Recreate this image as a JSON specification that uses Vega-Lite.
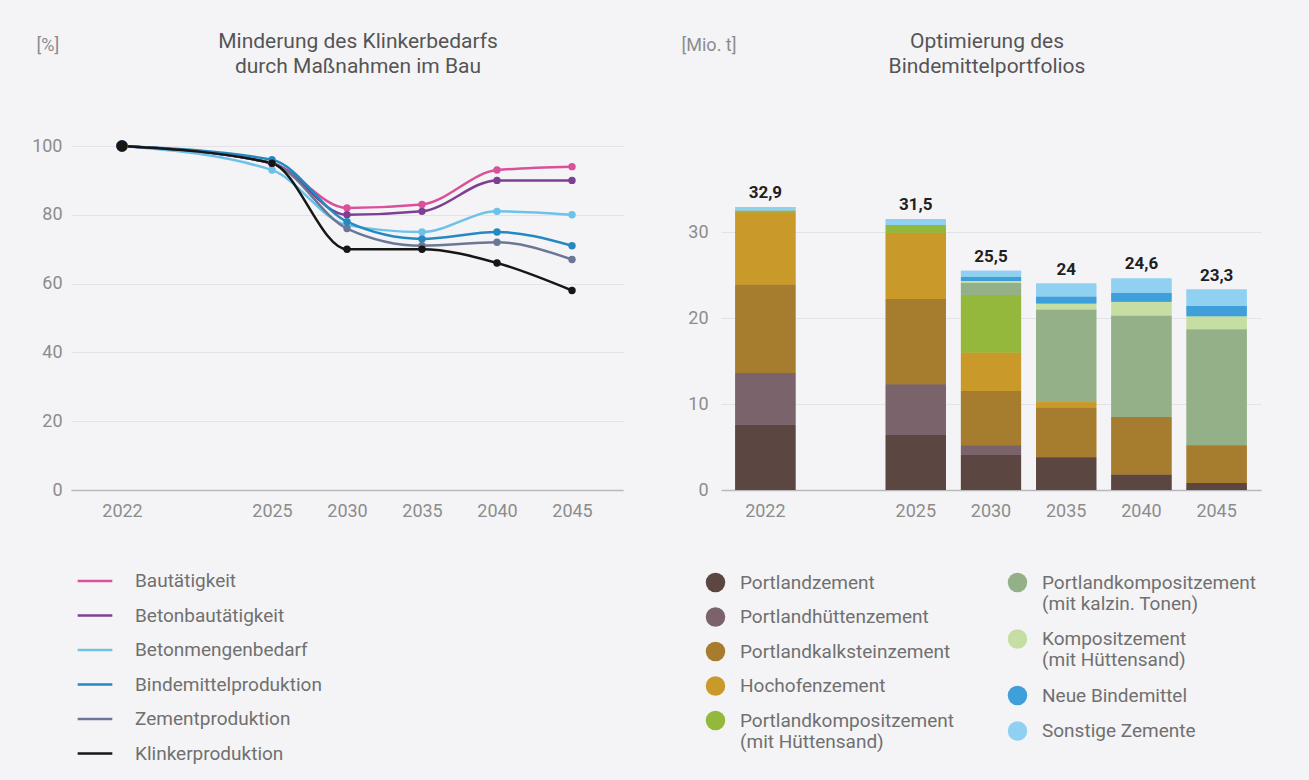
{
  "$schema": "https://vega.github.io/schema/vega-lite/v6.json",
  "background": "#f4f4f6",
  "padding": {"left": 31, "top": 31, "right": 60, "bottom": 30},
  "config": {
    "font": "Roboto",
    "locale": {"number": {"decimal": ",", "thousands": ".", "grouping": [3], "currency": ["", " €"]}},
    "view": {"stroke": null},
    "axis": {"labelFont": "Roboto", "labelFontSize": 18, "labelColor": "#8c8c8c", "ticks": false, "titleFont": "Roboto", "titleFontSize": 18, "titleColor": "#8c8c8c", "titleFontWeight": "normal"},
    "axisX": {"grid": false, "domainColor": "#b9b9bc", "domainWidth": 1.5, "labelPadding": 12, "labelAngle": 0},
    "axisY": {"grid": true, "gridColor": "#e3e3e7", "domain": false},
    "title": {"font": "Roboto", "fontSize": 21, "fontWeight": "normal", "color": "#555555", "lineHeight": 25, "anchor": "middle"},
    "legend": {"labelFont": "Roboto", "labelFontSize": 19, "labelColor": "#707070", "labelLimit": 400, "padding": 0, "title": null}
  },
  "datasets": {
    "lines": [
      {"series": "Bautätigkeit", "year": "2022", "value": 100},
      {"series": "Bautätigkeit", "year": "2025", "value": 95},
      {"series": "Bautätigkeit", "year": "2030", "value": 82},
      {"series": "Bautätigkeit", "year": "2035", "value": 83},
      {"series": "Bautätigkeit", "year": "2040", "value": 93},
      {"series": "Bautätigkeit", "year": "2045", "value": 94},
      {"series": "Betonbautätigkeit", "year": "2022", "value": 100},
      {"series": "Betonbautätigkeit", "year": "2025", "value": 95},
      {"series": "Betonbautätigkeit", "year": "2030", "value": 80},
      {"series": "Betonbautätigkeit", "year": "2035", "value": 81},
      {"series": "Betonbautätigkeit", "year": "2040", "value": 90},
      {"series": "Betonbautätigkeit", "year": "2045", "value": 90},
      {"series": "Betonmengenbedarf", "year": "2022", "value": 100},
      {"series": "Betonmengenbedarf", "year": "2025", "value": 93},
      {"series": "Betonmengenbedarf", "year": "2030", "value": 77},
      {"series": "Betonmengenbedarf", "year": "2035", "value": 75},
      {"series": "Betonmengenbedarf", "year": "2040", "value": 81},
      {"series": "Betonmengenbedarf", "year": "2045", "value": 80},
      {"series": "Bindemittelproduktion", "year": "2022", "value": 100},
      {"series": "Bindemittelproduktion", "year": "2025", "value": 96},
      {"series": "Bindemittelproduktion", "year": "2030", "value": 78},
      {"series": "Bindemittelproduktion", "year": "2035", "value": 73},
      {"series": "Bindemittelproduktion", "year": "2040", "value": 75},
      {"series": "Bindemittelproduktion", "year": "2045", "value": 71},
      {"series": "Zementproduktion", "year": "2022", "value": 100},
      {"series": "Zementproduktion", "year": "2025", "value": 95},
      {"series": "Zementproduktion", "year": "2030", "value": 76},
      {"series": "Zementproduktion", "year": "2035", "value": 71},
      {"series": "Zementproduktion", "year": "2040", "value": 72},
      {"series": "Zementproduktion", "year": "2045", "value": 67},
      {"series": "Klinkerproduktion", "year": "2022", "value": 100},
      {"series": "Klinkerproduktion", "year": "2025", "value": 95},
      {"series": "Klinkerproduktion", "year": "2030", "value": 70},
      {"series": "Klinkerproduktion", "year": "2035", "value": 70},
      {"series": "Klinkerproduktion", "year": "2040", "value": 66},
      {"series": "Klinkerproduktion", "year": "2045", "value": 58}
    ],
    "bars": [
      {"year": "2022", "type": "Portlandzement", "value": 7.6},
      {"year": "2022", "type": "Portlandhüttenzement", "value": 6.0},
      {"year": "2022", "type": "Portlandkalksteinzement", "value": 10.3},
      {"year": "2022", "type": "Hochofenzement", "value": 8.4},
      {"year": "2022", "type": "Portlandkompositzement (mit Hüttensand)", "value": 0.2},
      {"year": "2022", "type": "Sonstige Zemente", "value": 0.4},
      {"year": "2025", "type": "Portlandzement", "value": 6.4},
      {"year": "2025", "type": "Portlandhüttenzement", "value": 5.9},
      {"year": "2025", "type": "Portlandkalksteinzement", "value": 9.9},
      {"year": "2025", "type": "Hochofenzement", "value": 7.7},
      {"year": "2025", "type": "Portlandkompositzement (mit Hüttensand)", "value": 0.9},
      {"year": "2025", "type": "Sonstige Zemente", "value": 0.7},
      {"year": "2030", "type": "Portlandzement", "value": 4.1},
      {"year": "2030", "type": "Portlandhüttenzement", "value": 1.1},
      {"year": "2030", "type": "Portlandkalksteinzement", "value": 6.3},
      {"year": "2030", "type": "Hochofenzement", "value": 4.5},
      {"year": "2030", "type": "Portlandkompositzement (mit Hüttensand)", "value": 6.7},
      {"year": "2030", "type": "Portlandkompositzement (mit kalzin. Tonen)", "value": 1.4},
      {"year": "2030", "type": "Kompositzement (mit Hüttensand)", "value": 0.2},
      {"year": "2030", "type": "Neue Bindemittel", "value": 0.5},
      {"year": "2030", "type": "Sonstige Zemente", "value": 0.7},
      {"year": "2035", "type": "Portlandzement", "value": 3.8},
      {"year": "2035", "type": "Portlandkalksteinzement", "value": 5.8},
      {"year": "2035", "type": "Hochofenzement", "value": 0.7},
      {"year": "2035", "type": "Portlandkompositzement (mit kalzin. Tonen)", "value": 10.7},
      {"year": "2035", "type": "Kompositzement (mit Hüttensand)", "value": 0.7},
      {"year": "2035", "type": "Neue Bindemittel", "value": 0.8},
      {"year": "2035", "type": "Sonstige Zemente", "value": 1.5},
      {"year": "2040", "type": "Portlandzement", "value": 1.8},
      {"year": "2040", "type": "Portlandkalksteinzement", "value": 6.7},
      {"year": "2040", "type": "Portlandkompositzement (mit kalzin. Tonen)", "value": 11.8},
      {"year": "2040", "type": "Kompositzement (mit Hüttensand)", "value": 1.6},
      {"year": "2040", "type": "Neue Bindemittel", "value": 1.0},
      {"year": "2040", "type": "Sonstige Zemente", "value": 1.7},
      {"year": "2045", "type": "Portlandzement", "value": 0.8},
      {"year": "2045", "type": "Portlandkalksteinzement", "value": 4.4},
      {"year": "2045", "type": "Portlandkompositzement (mit kalzin. Tonen)", "value": 13.5},
      {"year": "2045", "type": "Kompositzement (mit Hüttensand)", "value": 1.5},
      {"year": "2045", "type": "Neue Bindemittel", "value": 1.2},
      {"year": "2045", "type": "Sonstige Zemente", "value": 1.9}
    ],
    "totals": [
      {"year": "2022", "total": 32.9},
      {"year": "2025", "total": 31.5},
      {"year": "2030", "total": 25.5},
      {"year": "2035", "total": 24},
      {"year": "2040", "total": 24.6},
      {"year": "2045", "total": 23.3}
    ]
  },
  "spacing": 58,
  "resolve": {"scale": {"color": "independent"}, "legend": {"color": "independent"}},
  "hconcat": [
    {
      "width": 552,
      "height": 344,
      "title": {"text": ["Minderung des Klinkerbedarfs", "durch Maßnahmen im Bau"], "offset": -41, "dx": 11},
      "data": {"name": "lines"},
      "encoding": {
        "x": {"field": "year", "type": "ordinal", "title": null,
          "scale": {"type": "point", "domain": ["2022", " ", "2025", "2030", "2035", "2040", "2045"], "padding": 0.68},
          "axis": {"values": ["2022", "2025", "2030", "2035", "2040", "2045"]}},
        "y": {"field": "value", "type": "quantitative",
          "scale": {"domain": [0, 100]},
          "axis": {"values": [0, 20, 40, 60, 80, 100], "title": "[%]", "titleAngle": 0, "titleAlign": "left", "titleBaseline": "middle", "titleX": -35, "titleY": -101, "labelPadding": 9}},
        "color": {"field": "series", "type": "nominal",
          "scale": {"domain": ["Bautätigkeit", "Betonbautätigkeit", "Betonmengenbedarf", "Bindemittelproduktion", "Zementproduktion", "Klinkerproduktion"],
                    "range": ["#d9509b", "#7d3f91", "#6ec1e8", "#2589c1", "#6b7796", "#161616"]},
          "legend": {"orient": "none", "legendX": 5, "legendY": 416, "symbolType": "stroke", "symbolSize": 1200, "symbolStrokeWidth": 2.5, "labelOffset": 21, "rowPadding": 5.5}}
      },
      "layer": [
        {"mark": {"type": "line", "interpolate": "monotone", "strokeWidth": 2.5}},
        {"mark": {"type": "circle", "opacity": 1},
         "encoding": {"size": {"condition": {"test": "datum.year === '2022'", "value": 130}, "value": 55}}}
      ]
    },
    {
      "width": 540,
      "height": 344,
      "title": {"text": ["Optimierung des", "Bindemittelportfolios"], "offset": -41, "dx": -4},
      "encoding": {
        "x": {"field": "year", "type": "ordinal", "title": null,
          "scale": {"type": "band", "domain": ["2022", " ", "2025", "2030", "2035", "2040", "2045"], "paddingInner": 0.2, "paddingOuter": 0.19},
          "axis": {"values": ["2022", "2025", "2030", "2035", "2040", "2045"]}}
      },
      "layer": [
        {
          "data": {"name": "bars"},
          "transform": [{"calculate": "indexof(['Portlandzement', 'Portlandhüttenzement', 'Portlandkalksteinzement', 'Hochofenzement', 'Portlandkompositzement (mit Hüttensand)', 'Portlandkompositzement (mit kalzin. Tonen)', 'Kompositzement (mit Hüttensand)', 'Neue Bindemittel', 'Sonstige Zemente'], datum.type)", "as": "stackOrder"}],
          "mark": {"type": "bar"},
          "encoding": {
            "y": {"field": "value", "type": "quantitative", "stack": "zero", "scale": {"domain": [0, 35.5]},
              "axis": {"values": [0, 10, 20, 30], "title": "[Mio. t]", "titleAngle": 0, "titleAlign": "left", "titleBaseline": "middle", "titleX": -40, "titleY": -101, "labelPadding": 13}},
            "order": {"field": "stackOrder", "type": "quantitative", "sort": "ascending"},
            "color": {"field": "type", "type": "nominal",
              "scale": {"domain": ["Portlandzement", "Portlandhüttenzement", "Portlandkalksteinzement", "Hochofenzement", "Portlandkompositzement (mit Hüttensand)", "Portlandkompositzement (mit kalzin. Tonen)", "Kompositzement (mit Hüttensand)", "Neue Bindemittel", "Sonstige Zemente"],
                        "range": ["#5b4641", "#7a636a", "#a67c2e", "#c9992a", "#93b83c", "#93b088", "#c6dea4", "#3f9fda", "#90d0f1"]},
              "legend": {"orient": "none", "legendX": -16, "legendY": 426, "symbolType": "circle", "symbolSize": 380, "labelOffset": 14, "rowPadding": 13.5,
                "values": ["Portlandzement", "Portlandhüttenzement", "Portlandkalksteinzement", "Hochofenzement", "Portlandkompositzement (mit Hüttensand)"],
                "labelExpr": "indexof(datum.label, ' (') > 0 ? [substring(datum.label, 0, indexof(datum.label, ' (')), substring(datum.label, indexof(datum.label, ' (') + 1)] : datum.label"}}
          }
        },
        {
          "data": {"name": "bars"},
          "transform": [{"calculate": "indexof(['Portlandzement', 'Portlandhüttenzement', 'Portlandkalksteinzement', 'Hochofenzement', 'Portlandkompositzement (mit Hüttensand)', 'Portlandkompositzement (mit kalzin. Tonen)', 'Kompositzement (mit Hüttensand)', 'Neue Bindemittel', 'Sonstige Zemente'], datum.type)", "as": "stackOrder"}],
          "mark": {"type": "bar"},
          "encoding": {
            "y": {"field": "value", "type": "quantitative", "stack": "zero", "scale": {"domain": [0, 35.5]},
              "axis": {"values": [0, 10, 20, 30], "title": "[Mio. t]", "titleAngle": 0, "titleAlign": "left", "titleBaseline": "middle", "titleX": -40, "titleY": -101, "labelPadding": 13}},
            "order": {"field": "stackOrder", "type": "quantitative", "sort": "ascending"},
            "color": {"field": "type", "type": "nominal",
              "scale": {"domain": ["Portlandzement", "Portlandhüttenzement", "Portlandkalksteinzement", "Hochofenzement", "Portlandkompositzement (mit Hüttensand)", "Portlandkompositzement (mit kalzin. Tonen)", "Kompositzement (mit Hüttensand)", "Neue Bindemittel", "Sonstige Zemente"],
                        "range": ["#5b4641", "#7a636a", "#a67c2e", "#c9992a", "#93b83c", "#93b088", "#c6dea4", "#3f9fda", "#90d0f1"]},
              "legend": {"orient": "none", "legendX": 286, "legendY": 426, "symbolType": "circle", "symbolSize": 380, "labelOffset": 14, "rowPadding": 14.5,
                "values": ["Portlandkompositzement (mit kalzin. Tonen)", "Kompositzement (mit Hüttensand)", "Neue Bindemittel", "Sonstige Zemente"],
                "labelExpr": "indexof(datum.label, ' (') > 0 ? [substring(datum.label, 0, indexof(datum.label, ' (')), substring(datum.label, indexof(datum.label, ' (') + 1)] : datum.label"}}
          }
        },
        {
          "data": {"name": "totals"},
          "mark": {"type": "text", "baseline": "bottom", "dy": -5, "fontSize": 17, "fontWeight": "bold", "color": "#1f1f1f"},
          "encoding": {
            "y": {"field": "total", "type": "quantitative",
              "axis": {"values": [0, 10, 20, 30], "title": "[Mio. t]", "titleAngle": 0, "titleAlign": "left", "titleBaseline": "middle", "titleX": -40, "titleY": -101, "labelPadding": 13}},
            "text": {"field": "total", "type": "quantitative", "format": "~g"}
          }
        }
      ],
      "resolve": {"scale": {"color": "independent"}, "legend": {"color": "independent"}}
    }
  ]
}
